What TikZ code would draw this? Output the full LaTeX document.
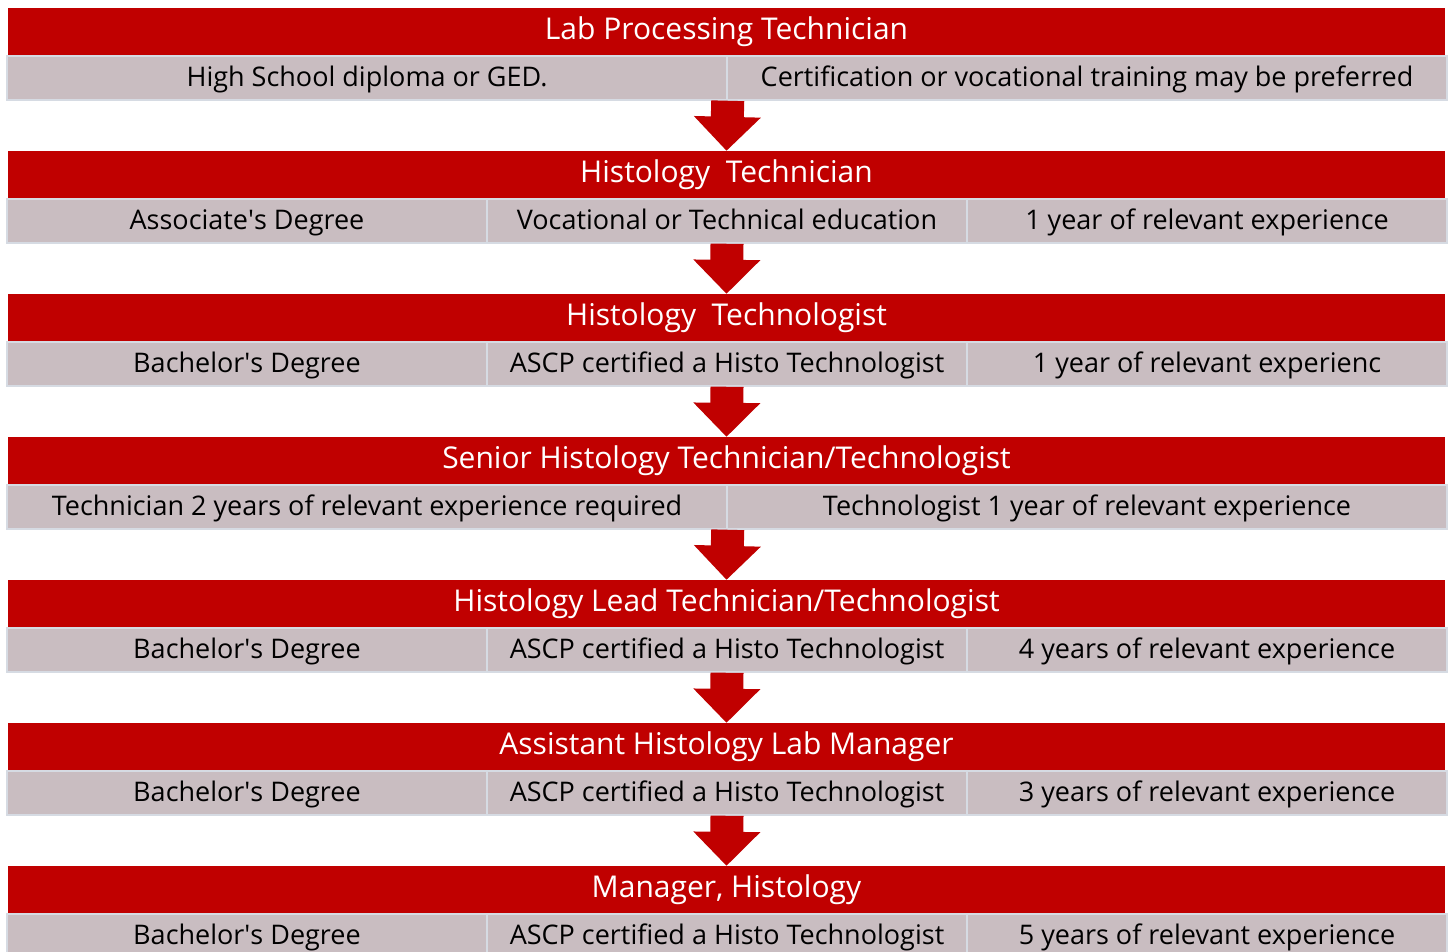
\documentclass[tikz,border=0pt]{standalone}
\usepackage{fontspec}
\setmainfont{Open Sans}
\usetikzlibrary{arrows.meta,positioning}
\definecolor{barred}{HTML}{C00000}
\definecolor{cellgray}{HTML}{C9BDC1}
\definecolor{cellline}{HTML}{D6DBE3}
\newcommand{\apos}{\textquotesingle}
\tikzstyle{title}=[fill=barred,text=white,minimum width=1437pt,minimum height=47pt,inner sep=0pt,text height=22pt,text depth=6pt,font=\fontsize{30}{34}\selectfont]
\tikzstyle{halfcell}=[fill=cellgray,draw=cellline,line width=1.5pt,minimum width=720pt,minimum height=44pt,inner sep=0pt,text height=22pt,text depth=6pt,font=\fontsize{27}{31}\selectfont]
\tikzstyle{cell}=[halfcell,minimum width=480pt]
\tikzstyle{down}=[barred,line width=33pt,-{Triangle[width=65pt,length=34pt]}]

\begin{document}
\begin{tikzpicture}[x=1pt,y=-1pt]
\clip (0,0) rectangle (1450,951);
\fill[white] (0,0) rectangle (1450,951);

% lab processing technician
\node [title] (t1) at (726.5,31.5) {Lab Processing Technician};
\node [halfcell] (a1) at (367,78) {High School diploma or GED.};
\node [halfcell] (a2) at (1087,78) {Certification or vocational training may be preferred};

% histology technician
\node [title] (t2) at (726.5,174.5) {Histology~~Technician};
\node [cell] (b1) at (247,221) {Associate\apos s Degree};
\node [cell] (b2) at (727,221) {Vocational or Technical education};
\node [cell] (b3) at (1207,221) {1 year of relevant experience};

% histology technologist
\node [title] (t3) at (726.5,317.5) {Histology~~Technologist};
\node [cell] (c1) at (247,364) {Bachelor\apos s Degree};
\node [cell] (c2) at (727,364) {ASCP certified a Histo Technologist};
\node [cell] (c3) at (1207,364) {1 year of relevant experienc};

% senior
\node [title] (t4) at (726.5,460.5) {Senior Histology Technician/Technologist};
\node [halfcell] (d1) at (367,507) {Technician 2 years of relevant experience required};
\node [halfcell] (d2) at (1087,507) {Technologist 1 year of relevant experience};

% lead
\node [title] (t5) at (726.5,603.5) {Histology Lead Technician/Technologist};
\node [cell] (e1) at (247,650) {Bachelor\apos s Degree};
\node [cell] (e2) at (727,650) {ASCP certified a Histo Technologist};
\node [cell] (e3) at (1207,650) {4 years of relevant experience};

% assistant manager
\node [title] (t6) at (726.5,746.5) {Assistant Histology Lab Manager};
\node [cell] (f1) at (247,793) {Bachelor\apos s Degree};
\node [cell] (f2) at (727,793) {ASCP certified a Histo Technologist};
\node [cell] (f3) at (1207,793) {3 years of relevant experience};

% manager
\node [title] (t7) at (726.5,889.5) {Manager, Histology};
\node [cell] (g1) at (247,936) {Bachelor\apos s Degree};
\node [cell] (g2) at (727,936) {ASCP certified a Histo Technologist};
\node [cell] (g3) at (1207,936) {5 years of relevant experience};

\draw [down] (a1.south east) -- (t2.north);
\draw [down] (b2.south) -- (t3.north);
\draw [down] (c2.south) -- (t4.north);
\draw [down] (d1.south east) -- (t5.north);
\draw [down] (e2.south) -- (t6.north);
\draw [down] (f2.south) -- (t7.north);
\end{tikzpicture}
\end{document}
